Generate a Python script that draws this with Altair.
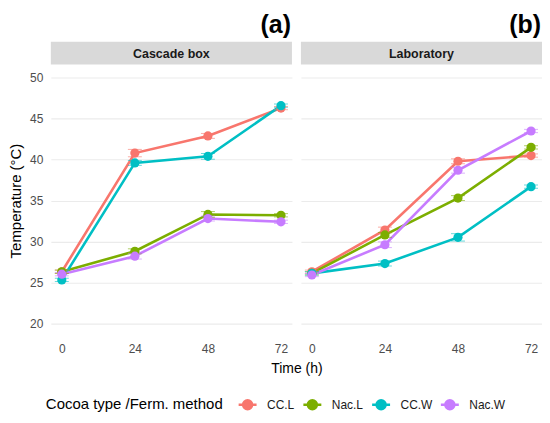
import altair as alt
import pandas as pd

times = [0, 24, 48, 72]
groups = ["CC.L", "Nac.L", "CC.W", "Nac.W"]
colors = ["#F8766D", "#7CAE00", "#00BFC4", "#C77CFF"]
panels = ["Cascade box", "Laboratory"]
tags = ["(a)", "(b)"]

# Cascade box
cas_ccl = [26.3, 40.8, 42.9, 46.3]
cas_nacl = [26.3, 28.8, 33.3, 33.2]
cas_ccw = [25.3, 39.6, 40.4, 46.6]
cas_nacw = [26.0, 28.2, 32.8, 32.4]
cas_ccl_sd = [0.2, 0.45, 0.3, 0.2]
cas_nacl_sd = [0.2, 0.3, 0.35, 0.2]
cas_ccw_sd = [0.2, 0.3, 0.35, 0.2]
cas_nacw_sd = [0.2, 0.35, 0.3, 0.2]

# Laboratory
lab_ccl = [26.3, 31.4, 39.8, 40.5]
lab_nacl = [26.1, 30.8, 35.3, 41.5]
lab_ccw = [26.1, 27.3, 30.5, 36.7]
lab_nacw = [25.9, 29.6, 38.7, 43.5]
lab_ccl_sd = [0.2, 0.35, 0.3, 0.2]
lab_nacl_sd = [0.2, 0.3, 0.3, 0.2]
lab_ccw_sd = [0.2, 0.3, 0.45, 0.2]
lab_nacw_sd = [0.2, 0.35, 0.35, 0.2]

series = {
    "Cascade box": ([cas_ccl, cas_nacl, cas_ccw, cas_nacw],
                    [cas_ccl_sd, cas_nacl_sd, cas_ccw_sd, cas_nacw_sd]),
    "Laboratory": ([lab_ccl, lab_nacl, lab_ccw, lab_nacw],
                   [lab_ccl_sd, lab_nacl_sd, lab_ccw_sd, lab_nacw_sd]),
}

rows = []
for p in panels:
    vals, sds = series[p]
    for g, v, s in zip(groups, vals, sds):
        for t, vv, ss in zip(times, v, s):
            rows.append({"panel": p, "group": g, "time": t, "temp": vv,
                         "lo": vv - ss, "hi": vv + ss})
df = pd.DataFrame(rows)

W, H = 242, 271
FONT = "Liberation Sans"
color_scale = alt.Scale(domain=groups, range=colors)
legend = alt.Legend(
    title="Cocoa type  /Ferm. method", orient="none", direction="horizontal",
    titleOrient="left", legendX=-5, legendY=330, titleLimit=400,
    symbolType="M-1,0L1,0M-0.5,0A0.5,0.5,0,1,1,0.5,0A0.5,0.5,0,1,1,-0.5,0Z",
    symbolSize=324, symbolStrokeWidth=2.5, symbolOpacity=1,
    labelOffset=9, columnPadding=3,
    labelFontSize=12, labelColor="#1A1A1A", titleFontSize=15,
    titleFontWeight="normal", titleColor="#000000", titlePadding=10,
)

y_vals = [20 + 2.5 * i for i in range(13)]


def panel(i):
    name = panels[i]
    show_y = i == 0
    base = alt.Chart(df).transform_filter(alt.datum.panel == name)
    x = alt.X("time:Q", scale=alt.Scale(domain=[-3.6, 75.6], nice=False, zero=False),
              axis=alt.Axis(values=times, grid=False, domain=False, ticks=False,
                            labelColor="#4D4D4D", labelFontSize=12, labelPadding=8,
                            labelFlush=False,
                            title="Time (h)" if show_y else None,
                            titleX=W + 4.5, titleFontSize=14, titleFontWeight="normal",
                            titleColor="#000000", titlePadding=7))
    yaxis = dict(values=y_vals, grid=True, domain=False, ticks=False,
                 gridColor="#EBEBEB",
                 gridWidth={"condition": {"test": "datum.value % 5 == 0", "value": 1.1},
                            "value": 0.6})
    if show_y:
        yaxis.update(labelExpr="datum.value % 5 == 0 ? datum.label : ''",
                     labelColor="#4D4D4D", labelFontSize=12, labelPadding=8,
                     title="Temperature (°C)", titleFontSize=15,
                     titleFontWeight="normal", titleColor="#000000", titlePadding=6)
    else:
        yaxis.update(labels=False, title=None)
    y = alt.Y("temp:Q", scale=alt.Scale(domain=[18.5, 51.5], nice=False, zero=False),
              axis=alt.Axis(**yaxis))
    col = alt.Color("group:N", scale=color_scale, legend=legend, sort=groups)

    deco = pd.DataFrame({"label": [name], "tag": [tags[i]]})
    strip = alt.Chart(deco).mark_rect(color="#D9D9D9").encode(
        x=alt.value(0), x2=alt.value(W), y=alt.value(-24), y2=alt.value(-1))
    strip_text = alt.Chart(deco).mark_text(fontWeight="bold", fontSize=12.5,
                                           color="#1A1A1A", font=FONT).encode(
        x=alt.value(W / 2), y=alt.value(-12), text="label:N")
    tag = alt.Chart(deco).mark_text(fontWeight="bold", fontSize=25, align="right",
                                    baseline="middle", color="#000000", font=FONT).encode(
        x=alt.value(W - 1), y=alt.value(-41), text="tag:N")

    lines = base.mark_line(strokeWidth=2.6).encode(x=x, y=y, color=col, detail="group:N")
    rules = base.mark_rule(strokeWidth=1, opacity=0.6).encode(
        x="time:Q", y="lo:Q", y2="hi:Q", color=col)
    tlo = base.mark_tick(orient="horizontal", size=14, thickness=1, opacity=0.6).encode(
        x="time:Q", y="lo:Q", color=col)
    thi = base.mark_tick(orient="horizontal", size=14, thickness=1, opacity=0.6).encode(
        x="time:Q", y="hi:Q", color=col)
    pts = base.mark_point(filled=True, size=85, opacity=1).encode(
        x="time:Q", y="temp:Q", color=col)

    return alt.layer(strip, strip_text, tag, lines, rules, tlo, thi, pts).properties(
        width=W, height=H)


chart = alt.hconcat(panel(0), panel(1), spacing=9, bounds="flush").resolve_scale(
    color="shared").configure(
    padding={"left": 0, "top": 4, "right": 0, "bottom": 0},
    font=FONT,
).configure_view(stroke=None)

chart.save("out.html", embed_options={"renderer": "svg", "actions": False})
